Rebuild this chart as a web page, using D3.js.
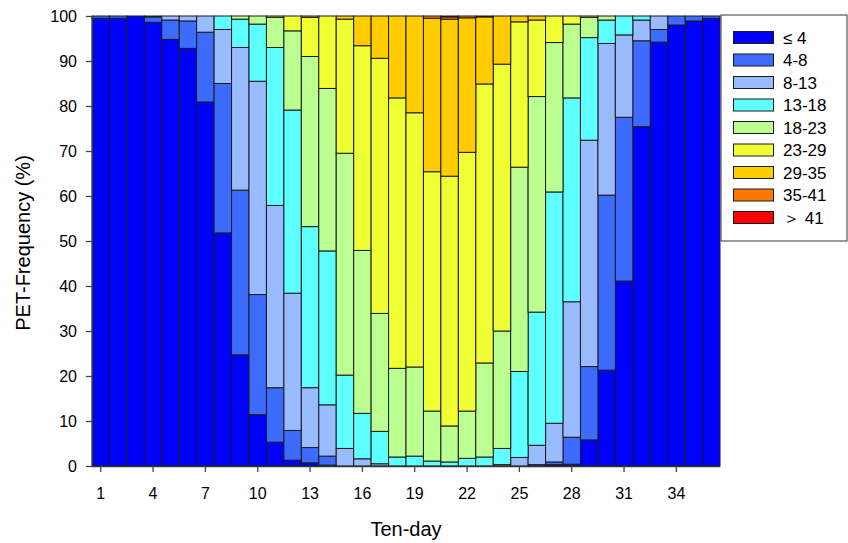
<!DOCTYPE html>
<html><head><meta charset="utf-8">
<script src="https://cdn.jsdelivr.net/npm/d3@7"></script>
<style>body{margin:0;background:#fff}svg{display:block;font-family:"Liberation Sans",Arial,sans-serif}</style>
</head><body><svg id="c" width="848" height="543"></svg>
<script>
const periods = [1,2,3,4,5,6,7,8,9,10,11,12,13,14,15,16,17,18,19,20,21,22,23,24,25,26,27,28,29,30,31,32,33,34,35,36];
const xTickLabels = [1,4,7,10,13,16,19,22,25,28,31,34];
const yTickLabels = [0,10,20,30,40,50,60,70,80,90,100];
const categories = ["≤ 4","4-8","8-13","13-18","18-23","23-29","29-35","35-41","＞ 41"];
const colors = ["#0000ff","#3d6bff","#99bbff","#5effff","#bbff90","#efff33","#ffcc00","#ff7700","#ff0000"];

const le4    = [99.5,99.5,100,98.6,94.8,92.8,80.9,51.8,24.7,11.4,5.3,1.3,0.7,0.2,0,0,0,0,0,0,0,0,0,0,0,0,0.3,0.4,5.8,21.3,41.1,75.4,94.2,98.0,98.9,99.5];
const r4_8   = [0.5,0.5,0,1.2,4.3,6.1,15.5,33.2,36.6,26.7,12.1,6.6,3.4,2.0,0,0,0,0,0,0,0,0,0,0,0,0.3,0.6,6.0,16.3,38.9,36.4,19.1,2.8,2.0,1.1,0.5];
const r8_13  = [0,0,0,0.2,0.9,1.1,3.6,12.0,31.7,47.4,40.5,30.5,13.3,11.4,3.9,1.6,0.5,0,0,0,0,0,0,0.3,1.9,4.3,8.6,30.1,50.3,33.7,18.3,4.6,3.0,0,0,0];
const r13_18 = [0,0,0,0,0,0,0,3.0,6.3,12.7,35.1,40.7,35.8,34.2,16.3,10.1,7.2,2.0,2.2,1.1,0.9,1.7,2.0,3.6,19.1,29.6,51.4,45.3,22.8,5.2,4.2,0.9,0,0,0,0];
const r18_23 = [0,0,0,0,0,0,0,0,0.7,1.8,6.7,17.6,37.8,36.1,49.3,36.2,26.2,19.7,19.8,11.1,8.0,10.5,20.9,26.1,45.4,47.9,33.2,16.4,4.5,0.9,0,0,0,0,0,0];
const r23_29 = [0,0,0,0,0,0,0,0,0,0,0.3,3.3,8.7,16.1,29.8,45.5,56.7,60.1,56.5,53.2,55.5,57.5,62.0,59.3,32.3,17.0,5.9,1.8,0.3,0,0,0,0,0,0,0];
const r29_35 = [0,0,0,0,0,0,0,0,0,0,0,0,0.3,0,0.7,6.6,9.4,18.2,21.5,34.1,34.9,29.9,14.9,10.7,1.3,0.9,0,0,0,0,0,0,0,0,0,0];
const r35_41 = [0,0,0,0,0,0,0,0,0,0,0,0,0,0,0,0,0,0,0,0.5,0.5,0.4,0.2,0,0,0,0,0,0,0,0,0,0,0,0,0];
const gt41   = [0,0,0,0,0,0,0,0,0,0,0,0,0,0,0,0,0,0,0,0,0.2,0,0,0,0,0,0,0,0,0,0,0,0,0,0,0];

const seriesVals = [le4,r4_8,r8_13,r13_18,r18_23,r23_29,r29_35,r35_41,gt41];
const table = periods.map((p,i)=>{const o={p}; categories.forEach((c,k)=>o[c]=seriesVals[k][i]); return o;});

const svg = d3.select("#c");
const L=92,R=720,T=16,B=466;
const x = d3.scaleBand().domain(periods).range([L,R]).padding(0);
const y = d3.scaleLinear().domain([0,100]).range([B,T]);
const color = d3.scaleOrdinal().domain(categories).range(colors);

const stacked = d3.stack().keys(categories)(table);
svg.append("g").selectAll("g").data(stacked).join("g")
  .attr("fill", d=>color(d.key))
  .selectAll("rect").data(d=>d.filter(v=>v[1]-v[0]>0)).join("rect")
  .attr("x", d=>x(d.data.p)).attr("width", x.bandwidth())
  .attr("y", d=>y(d[1])).attr("height", d=>y(d[0])-y(d[1]))
  .attr("stroke","#1a1a1a").attr("stroke-width",1);

// axes
const yAxis = svg.append("g").attr("transform",`translate(${L},0)`)
  .call(d3.axisLeft(y).tickValues(yTickLabels).tickSize(6).tickPadding(9));
const xAxis = svg.append("g").attr("transform",`translate(0,${B})`)
  .call(d3.axisBottom(x).tickValues(xTickLabels).tickSize(6).tickPadding(16));
[yAxis,xAxis].forEach(a=>{
  a.select(".domain").attr("stroke","#333").attr("stroke-width",1.3);
  a.selectAll(".tick line").attr("stroke","#444").attr("stroke-width",1.3);
  a.selectAll(".tick text").attr("font-size",16).attr("fill","#000").attr("font-family","Liberation Sans, Arial, sans-serif");
});
xAxis.select(".domain").attr("d",`M${L},0.5H${R}`);
yAxis.select(".domain").attr("d",`M0.5,${B}V${T}`);

// titles
svg.append("text").attr("x",(L+R)/2).attr("y",536).attr("text-anchor","middle")
  .attr("font-size",20).text("Ten-day");
svg.append("text").attr("transform","translate(30,243) rotate(-90)").attr("text-anchor","middle")
  .attr("font-size",20).text("PET-Frequency (%)");

// legend
const lg = svg.append("g");
lg.append("rect").attr("x",721).attr("y",15).attr("width",126).attr("height",226)
  .attr("fill","#fff").attr("stroke","#555").attr("stroke-width",1.2);
const items = lg.selectAll("g.it").data(categories).join("g").attr("class","it")
  .attr("transform",(d,i)=>`translate(0,${37.5+i*22.5})`);
items.append("rect").attr("x",733.5).attr("y",-6).attr("width",40).attr("height",12)
  .attr("fill",d=>color(d)).attr("stroke","#1a1a1a").attr("stroke-width",1);
items.append("text").attr("x",783).attr("y",0).attr("dy","0.36em").attr("font-size",17).text(d=>d);
</script></body></html>
